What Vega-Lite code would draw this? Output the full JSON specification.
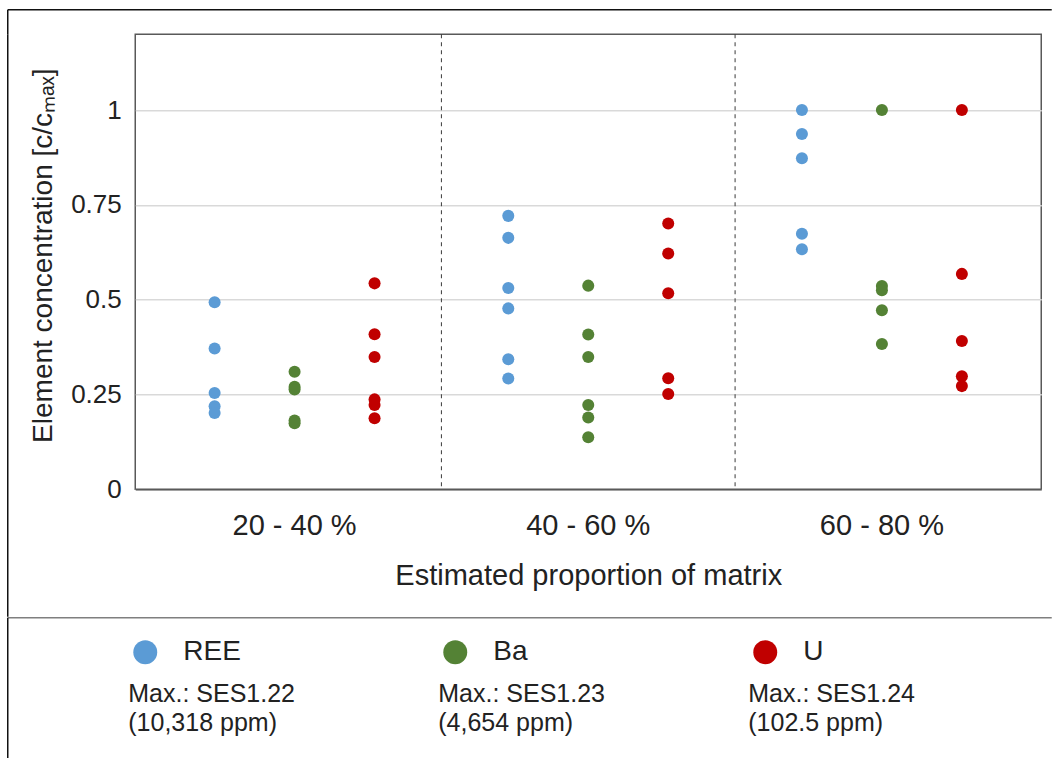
{
  "$schema": "https://vega.github.io/schema/vega-lite/v6.json",
  "padding": {"left": 6.25, "top": 8.25, "right": 0, "bottom": 0},
  "autosize": {"type": "pad"},
  "background": "white",
  "columns": 1,
  "align": "each",
  "spacing": 0,
  "config": {"font": "Liberation Sans", "view": {"stroke": null}},
  "concat": [
    {
      "width": 906,
      "height": 455,
      "view": {"stroke": "#595959", "strokeWidth": 1.5},
      "data": {
        "values": [
          {"cat": "20 - 40 %", "element": "REE", "value": 0.493},
          {"cat": "20 - 40 %", "element": "REE", "value": 0.371},
          {"cat": "20 - 40 %", "element": "REE", "value": 0.254},
          {"cat": "20 - 40 %", "element": "REE", "value": 0.219},
          {"cat": "20 - 40 %", "element": "REE", "value": 0.201},
          {"cat": "20 - 40 %", "element": "Ba", "value": 0.31},
          {"cat": "20 - 40 %", "element": "Ba", "value": 0.27},
          {"cat": "20 - 40 %", "element": "Ba", "value": 0.263},
          {"cat": "20 - 40 %", "element": "Ba", "value": 0.181},
          {"cat": "20 - 40 %", "element": "Ba", "value": 0.174},
          {"cat": "20 - 40 %", "element": "U", "value": 0.543},
          {"cat": "20 - 40 %", "element": "U", "value": 0.409},
          {"cat": "20 - 40 %", "element": "U", "value": 0.349},
          {"cat": "20 - 40 %", "element": "U", "value": 0.237},
          {"cat": "20 - 40 %", "element": "U", "value": 0.222},
          {"cat": "20 - 40 %", "element": "U", "value": 0.187},
          {"cat": "40 - 60 %", "element": "REE", "value": 0.721},
          {"cat": "40 - 60 %", "element": "REE", "value": 0.663},
          {"cat": "40 - 60 %", "element": "REE", "value": 0.531},
          {"cat": "40 - 60 %", "element": "REE", "value": 0.477},
          {"cat": "40 - 60 %", "element": "REE", "value": 0.343},
          {"cat": "40 - 60 %", "element": "REE", "value": 0.292},
          {"cat": "40 - 60 %", "element": "Ba", "value": 0.537},
          {"cat": "40 - 60 %", "element": "Ba", "value": 0.408},
          {"cat": "40 - 60 %", "element": "Ba", "value": 0.349},
          {"cat": "40 - 60 %", "element": "Ba", "value": 0.222},
          {"cat": "40 - 60 %", "element": "Ba", "value": 0.189},
          {"cat": "40 - 60 %", "element": "Ba", "value": 0.137},
          {"cat": "40 - 60 %", "element": "U", "value": 0.701},
          {"cat": "40 - 60 %", "element": "U", "value": 0.622},
          {"cat": "40 - 60 %", "element": "U", "value": 0.517},
          {"cat": "40 - 60 %", "element": "U", "value": 0.293},
          {"cat": "40 - 60 %", "element": "U", "value": 0.251},
          {"cat": "60 - 80 %", "element": "REE", "value": 1.0},
          {"cat": "60 - 80 %", "element": "REE", "value": 0.937},
          {"cat": "60 - 80 %", "element": "REE", "value": 0.873},
          {"cat": "60 - 80 %", "element": "REE", "value": 0.674},
          {"cat": "60 - 80 %", "element": "REE", "value": 0.633},
          {"cat": "60 - 80 %", "element": "Ba", "value": 1.0},
          {"cat": "60 - 80 %", "element": "Ba", "value": 0.536},
          {"cat": "60 - 80 %", "element": "Ba", "value": 0.525},
          {"cat": "60 - 80 %", "element": "Ba", "value": 0.472},
          {"cat": "60 - 80 %", "element": "Ba", "value": 0.383},
          {"cat": "60 - 80 %", "element": "U", "value": 1.0},
          {"cat": "60 - 80 %", "element": "U", "value": 0.568},
          {"cat": "60 - 80 %", "element": "U", "value": 0.391},
          {"cat": "60 - 80 %", "element": "U", "value": 0.298},
          {"cat": "60 - 80 %", "element": "U", "value": 0.272}
        ]
      },
      "layer": [
        {
          "layer": [
            {
              "data": {"values": [{"cat": "40 - 60 %"}, {"cat": "60 - 80 %"}]},
              "mark": {"type": "rule", "color": "#3a3a3a", "strokeDash": [4, 4], "strokeWidth": 1},
              "encoding": {
                "x": {"field": "cat", "type": "nominal", "bandPosition": 0}
              }
            },
            {
              "mark": {"type": "circle", "size": 145, "opacity": 1},
              "encoding": {
                "x": {
                  "field": "cat",
                  "type": "nominal",
                  "scale": {"domain": ["20 - 40 %", "40 - 60 %", "60 - 80 %"], "paddingInner": 0, "paddingOuter": 0.0426},
                  "axis": {
                    "title": "Estimated proportion of matrix",
                    "labelAngle": 0,
                    "labelAlign": "center",
                    "bandPosition": 0.5,
                    "labelFontSize": 29,
                    "labelColor": "#222222",
                    "labelPadding": 36,
                    "ticks": false,
                    "tickSize": 0,
                    "domain": true,
                    "domainColor": "#595959",
                    "domainWidth": 1.5,
                    "titleFontSize": 29,
                    "titleFontWeight": "normal",
                    "titleColor": "#222222",
                    "titlePadding": 21,
                    "zindex": 1
                  }
                },
                "xOffset": {
                  "field": "element",
                  "type": "nominal",
                  "scale": {"type": "point", "domain": ["REE", "Ba", "U"], "padding": 0.836}
                },
                "y": {
                  "field": "value",
                  "type": "quantitative",
                  "scale": {"domain": [0, 1.2], "nice": false},
                  "axis": {
                    "values": [0, 0.25, 0.5, 0.75, 1],
                    "format": "~g",
                    "grid": true,
                    "gridColor": "#d9d9d9",
                    "gridWidth": 1.5,
                    "domain": false,
                    "ticks": false,
                    "tickSize": 0,
                    "labelFontSize": 26,
                    "labelColor": "#222222",
                    "labelPadding": 14,
                    "title": "Element concentration [c/cₘₐₓ]",
                    "titleFontSize": 28,
                    "titleFontWeight": "normal",
                    "titleColor": "#222222",
                    "titlePadding": 13,
                    "titleY": 221,
                    "zindex": 0
                  }
                },
                "color": {
                  "field": "element",
                  "type": "nominal",
                  "scale": {"domain": ["REE", "Ba", "U"], "range": ["#5b9bd5", "#548235", "#c00000"]},
                  "legend": null
                }
              }
            }
          ]
        },
        {
          "mark": {"type": "point", "opacity": 0, "size": 0},
          "encoding": {
            "x": {
              "field": "value",
              "type": "quantitative",
              "scale": {"domain": [0, 1], "range": [-128, 916], "nice": false, "zero": false},
              "axis": {
                "orient": "top",
                "offset": 25,
                "domain": true,
                "domainColor": "#111111",
                "domainWidth": 1.5,
                "labels": false,
                "ticks": false,
                "grid": false,
                "title": null
              }
            },
            "y": {
              "field": "value",
              "type": "quantitative",
              "scale": {"domain": [0, 1], "range": [582, 0], "nice": false, "zero": false},
              "axis": {
                "orient": "left",
                "offset": 128,
                "domain": true,
                "domainColor": "#111111",
                "domainWidth": 1.5,
                "labels": false,
                "ticks": false,
                "grid": false,
                "title": null
              }
            }
          }
        },
        {
          "mark": {"type": "point", "opacity": 0, "size": 0},
          "encoding": {
            "y": {
              "field": "value",
              "type": "quantitative",
              "scale": {"domain": [0, 1], "range": [0, -25], "nice": false, "zero": false},
              "axis": {
                "orient": "left",
                "offset": 128,
                "domain": true,
                "domainColor": "#111111",
                "domainWidth": 1.5,
                "labels": false,
                "ticks": false,
                "grid": false,
                "title": null
              }
            }
          }
        }
      ],
      "resolve": {"scale": {"x": "independent", "y": "independent"}}
    },
    {
      "width": 916,
      "height": 115,
      "data": {
        "values": [
          {"element": "REE", "slot": 0, "name": "REE", "details": "Max.: SES1.22\n(10,318 ppm)"},
          {"element": "Ba", "slot": 1, "name": "Ba", "details": "Max.: SES1.23\n(4,654 ppm)"},
          {"element": "U", "slot": 2, "name": "U", "details": "Max.: SES1.24\n(102.5 ppm)"}
        ]
      },
      "layer": [
        {
          "encoding": {
            "x": {"field": "slot", "type": "quantitative", "scale": {"domain": [-0.0323, 2.9226], "nice": false, "zero": false}, "axis": null}
          },
          "layer": [
            {
              "mark": {"type": "circle", "size": 572, "opacity": 1},
              "encoding": {
                "y": {"datum": 0, "type": "quantitative", "scale": {"domain": [-0.2, 2.1], "reverse": true, "nice": false, "zero": false}, "axis": null},
                "color": {
                  "field": "element",
                  "type": "nominal",
                  "scale": {"domain": ["REE", "Ba", "U"], "range": ["#5b9bd5", "#548235", "#c00000"]},
                  "legend": null
                }
              }
            },
            {
              "mark": {"type": "text", "align": "left", "baseline": "middle", "dx": 38, "fontSize": 28, "color": "#222222"},
              "encoding": {
                "y": {"datum": 0, "type": "quantitative"},
                "text": {"field": "name"}
              }
            },
            {
              "mark": {"type": "text", "align": "left", "baseline": "alphabetic", "dx": -17, "fontSize": 25, "lineBreak": "\n", "lineHeight": 29, "color": "#222222"},
              "encoding": {
                "y": {"datum": 1, "type": "quantitative"},
                "text": {"field": "details"}
              }
            }
          ]
        },
        {
          "mark": {"type": "point", "opacity": 0, "size": 0},
          "encoding": {
            "x": {
              "field": "slot",
              "type": "quantitative",
              "scale": {"domain": [0, 2], "range": [-128, 916], "nice": false, "zero": false},
              "axis": {
                "orient": "top",
                "offset": 25,
                "domain": true,
                "domainColor": "#7f7f7f",
                "domainWidth": 1.5,
                "labels": false,
                "ticks": false,
                "grid": false,
                "title": null
              }
            },
            "y": {
              "field": "slot",
              "type": "quantitative",
              "scale": {"domain": [0, 2], "range": [117, -25], "nice": false, "zero": false},
              "axis": {
                "orient": "left",
                "offset": 128,
                "domain": true,
                "domainColor": "#111111",
                "domainWidth": 1.5,
                "labels": false,
                "ticks": false,
                "grid": false,
                "title": null
              }
            }
          }
        }
      ],
      "resolve": {"scale": {"x": "independent", "y": "independent"}}
    }
  ]
}
